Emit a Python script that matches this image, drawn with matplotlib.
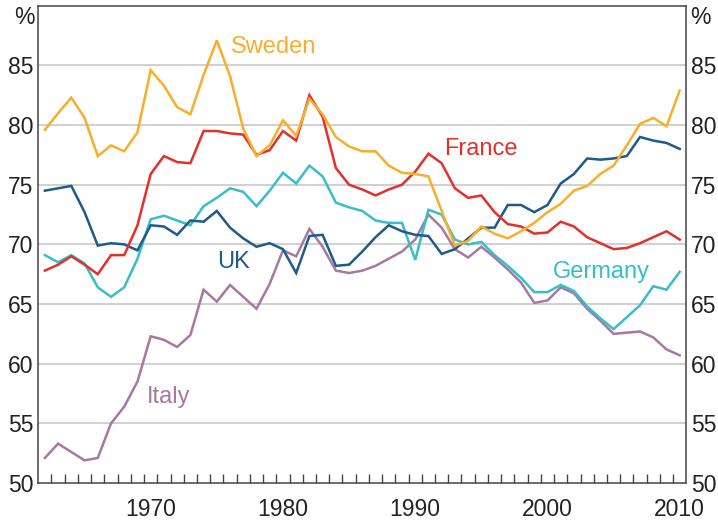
import matplotlib
matplotlib.use("Agg")
import matplotlib.pyplot as plt
import numpy as np

years = list(range(1962, 2011))

sweden = [79.6, 81.0, 82.3, 80.6, 77.4, 78.3, 77.8, 79.4,
          84.6, 83.3, 81.5, 80.9, 84.2, 87.1, 84.1, 79.7, 77.4, 78.3,
          80.4, 79.1, 82.2, 80.9, 79.0, 78.2, 77.8, 77.8, 76.6, 76.0,
          75.9, 75.7, 72.8, 69.9, 70.3, 71.5, 70.9, 70.5, 71.1, 71.8,
          72.7, 73.4, 74.5, 74.9, 75.9, 76.6, 78.3, 80.1, 80.6, 79.9, 82.9]

france = [67.8, 68.3, 69.0, 68.3, 67.5, 69.1, 69.1, 71.6,
          75.9, 77.4, 76.9, 76.8, 79.5, 79.5, 79.3, 79.2, 77.5, 77.9,
          79.5, 78.7, 82.5, 80.7, 76.4, 75.0, 74.6, 74.1, 74.6, 75.0,
          76.1, 77.6, 76.8, 74.7, 73.9, 74.1, 72.7, 71.7, 71.5, 70.9,
          71.0, 71.9, 71.5, 70.6, 70.1, 69.6, 69.7, 70.1, 70.6, 71.1, 70.4]

uk = [74.5, 74.7, 74.9, 72.7, 69.9, 70.1, 70.0, 69.5,
      71.6, 71.5, 70.8, 72.0, 71.9, 72.8, 71.4, 70.5, 69.8, 70.1,
      69.6, 67.6, 70.7, 70.8, 68.2, 68.3, 69.4, 70.6, 71.6, 71.1,
      70.8, 70.7, 69.2, 69.6, 70.5, 71.4, 71.4, 73.3, 73.3, 72.7,
      73.3, 75.1, 75.9, 77.2, 77.1, 77.2, 77.4, 79.0, 78.7, 78.5, 78.0]

germany = [69.1, 68.5, 69.1, 68.4, 66.4, 65.6, 66.4, 68.8,
           72.1, 72.4, 72.0, 71.6, 73.2, 73.9, 74.7, 74.4, 73.2, 74.5,
           76.0, 75.1, 76.6, 75.7, 73.5, 73.1, 72.8, 72.0, 71.8, 71.8,
           68.7, 72.9, 72.5, 70.4, 70.0, 70.2, 69.1, 68.2, 67.2, 66.0,
           66.0, 66.6, 66.1, 64.8, 63.8, 62.9, 63.9, 64.9, 66.5, 66.2, 67.7]

italy = [52.1, 53.3, 52.6, 51.9, 52.1, 55.0, 56.4, 58.5,
         62.3, 62.0, 61.4, 62.4, 66.2, 65.2, 66.6, 65.6, 64.6, 66.7,
         69.5, 69.0, 71.3, 69.8, 67.8, 67.6, 67.8, 68.2, 68.8, 69.4,
         70.4, 72.5, 71.4, 69.6, 68.9, 69.8, 68.9, 67.9, 66.8, 65.1,
         65.3, 66.4, 65.9, 64.6, 63.6, 62.5, 62.6, 62.7, 62.2, 61.2, 60.7]

series_names = ["Italy", "Germany", "UK", "France", "Sweden"]
series_values = [italy, germany, uk, france, sweden]
colors = {"Sweden": "#F9AE2B", "France": "#E3302A", "UK": "#1E5A8C",
          "Germany": "#37BEC8", "Italy": "#A7799F"}

y_ticks = [50, 55, 60, 65, 70, 75, 80, 85]
x_tick_labels = [1970, 1980, 1990, 2000, 2010]

label_pos = {"Sweden": (1976.1, 86.0), "France": (1992.2, 77.5),
             "UK": (1975.0, 68.0), "Germany": (2000.4, 67.2),
             "Italy": (1969.7, 56.7)}

plt.rcParams['font.family'] = ['Liberation Sans', 'DejaVu Sans']

fig = plt.figure(figsize=(7.18, 5.21), dpi=100)
ax = fig.add_axes([0.0533, 0.0729, 0.9026, 0.9161])

for name, vals in zip(series_names, series_values):
    ax.plot(years, vals, color=colors[name], lw=1.8, solid_joinstyle='miter', zorder=3)
    lx, ly = label_pos[name]
    ax.text(lx, ly, name, color=colors[name], fontsize=17, ha='left', va='baseline')

ax.set_xlim(1961.5, 2010.5)
ax.set_ylim(50, 90)

ax.set_yticks(y_ticks)
ax.set_yticklabels([str(v) for v in y_ticks])
for v in y_ticks[1:]:
    ax.axhline(v, color='#c4c4c4', lw=1.1, zorder=1)

ax.set_xticks(x_tick_labels)
ax.set_xticklabels([str(v) for v in x_tick_labels])
ax.set_xticks(np.arange(1962.5, 2010.5, 1.0), minor=True)

ax.tick_params(axis='x', which='major', length=0, pad=11, labelsize=16.5, colors='#222222')
ax.tick_params(axis='x', which='minor', direction='in', length=6.5, width=1.0, color='#444444')
ax.tick_params(axis='y', which='both', length=0, labelsize=16.5, labelleft=True,
               labelright=True, pad=3.5, colors='#222222')

for sp in ax.spines.values():
    sp.set_color('#444444')
    sp.set_linewidth(1.1)

fig.text(24 / 718, 1 - 17 / 521, "%", fontsize=16.5, ha='center', va='center', color='#222222')
fig.text(700 / 718, 1 - 17 / 521, "%", fontsize=16.5, ha='center', va='center', color='#222222')

fig.savefig("out.png", dpi=100)
